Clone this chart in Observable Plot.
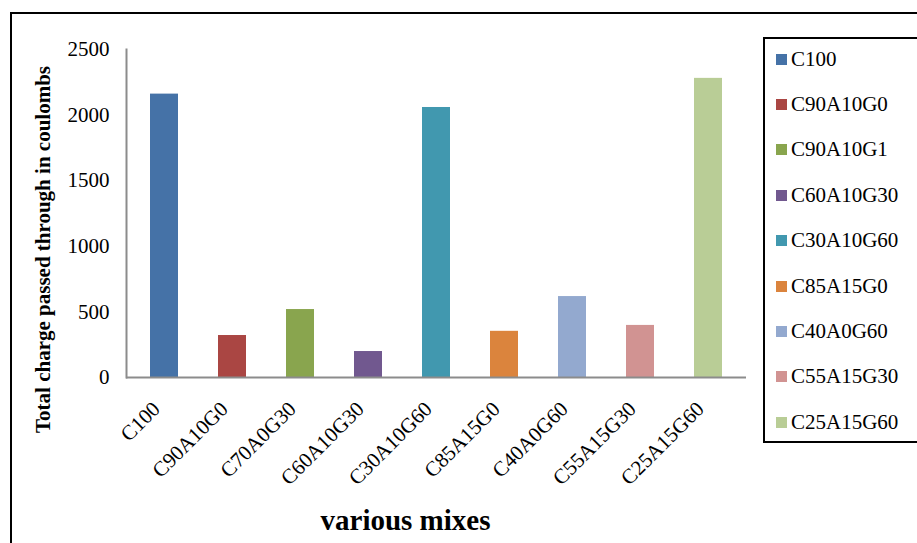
<!DOCTYPE html>
<html>
<head>
<meta charset="utf-8">
<script src="https://cdn.jsdelivr.net/npm/d3@7"></script>
<script src="https://cdn.jsdelivr.net/npm/@observablehq/plot@0.6"></script>
<style>
  html, body { margin: 0; padding: 0; background: #fff; }
  #wrap { position: relative; width: 917px; height: 543px; overflow: hidden; background: #fff; font-family: "Liberation Serif", "Times New Roman", serif; }
  #border { position: absolute; left: 10px; top: 12px; width: 1200px; height: 1200px; border: 2px solid #000; box-sizing: border-box; }
  #chart { position: absolute; left: 0; top: 0; }
  #legend { position: absolute; left: 763px; top: 37px; width: 300px; height: 406px; border: 2px solid #000; box-sizing: border-box; background: #fff; }
  .item { position: absolute; left: 11px; height: 24px; display: flex; align-items: center; font-size: 21px; color: #000; white-space: nowrap; }
  .sw { width: 11px; height: 11px; margin-right: 4px; }
</style>
</head>
<body>
<div id="wrap">
  <div id="border"></div>
  <div id="chart"></div>
  <div id="legend"></div>
</div>
<script>
// Mix designations along the x axis
const mixes = ["C100", "C90A10G0", "C70A0G30", "C60A10G30", "C30A10G60", "C85A15G0", "C40A0G60", "C55A15G30", "C25A15G60"];
// Legend entries, in series order
const legendLabels = ["C100", "C90A10G0", "C90A10G1", "C60A10G30", "C30A10G60", "C85A15G0", "C40A0G60", "C55A15G30", "C25A15G60"];
// Total charge passed (coulombs)
const charge = [2160, 320, 518, 198, 2058, 352, 617, 397, 2280];
// Series fill colours
const colors = ["#4572A7", "#AA4643", "#89A54E", "#71588F", "#4198AF", "#DB843D", "#93A9CF", "#D19392", "#B9CD96"];
const yTicks = [0, 500, 1000, 1500, 2000, 2500];

const data = mixes.map((m, i) => ({mix: m, charge: charge[i]}));

const chart = Plot.plot({
  width: 917,
  height: 543,
  marginLeft: 126,
  marginRight: 171,
  marginTop: 49,
  marginBottom: 166,
  style: {fontFamily: "'Liberation Serif', 'Times New Roman', serif", fontSize: "21px", color: "#000", background: "transparent"},
  x: {domain: mixes, paddingInner: 0.59, paddingOuter: 0.295, label: null},
  y: {domain: [0, 2500], label: null},
  color: {domain: mixes, range: colors},
  marks: [
    Plot.barY(data, {x: "mix", y: "charge", fill: "mix"}),
    Plot.frame({anchor: "left", stroke: "#8c8c8c", strokeWidth: 2}),
    Plot.ruleY([0], {stroke: "#8c8c8c", strokeWidth: 2}),
    Plot.axisY({ticks: yTicks, tickSize: 0, tickPadding: 17, tickFormat: d => String(d), label: null, fontSize: 21}),
    Plot.axisX({tickSize: 0, tickPadding: 28, dx: -8, tickRotate: -45, label: null, fontSize: 21}),
    Plot.text(["Total charge passed through in coulombs"], {
      frameAnchor: "left", textAnchor: "middle", rotate: -90, dx: -83, dy: 36,
      fontWeight: "bold", fontSize: 21, fill: "#000"
    }),
    Plot.text(["various mixes"], {
      frameAnchor: "bottom", dx: -31, dy: 152,
      fontWeight: "bold", fontSize: 29, fill: "#000"
    })
  ]
});
document.getElementById("chart").appendChild(chart);

// Legend: one swatch per series
const legend = d3.select("#legend");
legendLabels.forEach((label, i) => {
  const item = legend.append("div").attr("class", "item").style("top", (8 + i * 45.4) + "px");
  item.append("div").attr("class", "sw").style("background", colors[i]);
  item.append("span").text(label);
});
</script>
</body>
</html>
